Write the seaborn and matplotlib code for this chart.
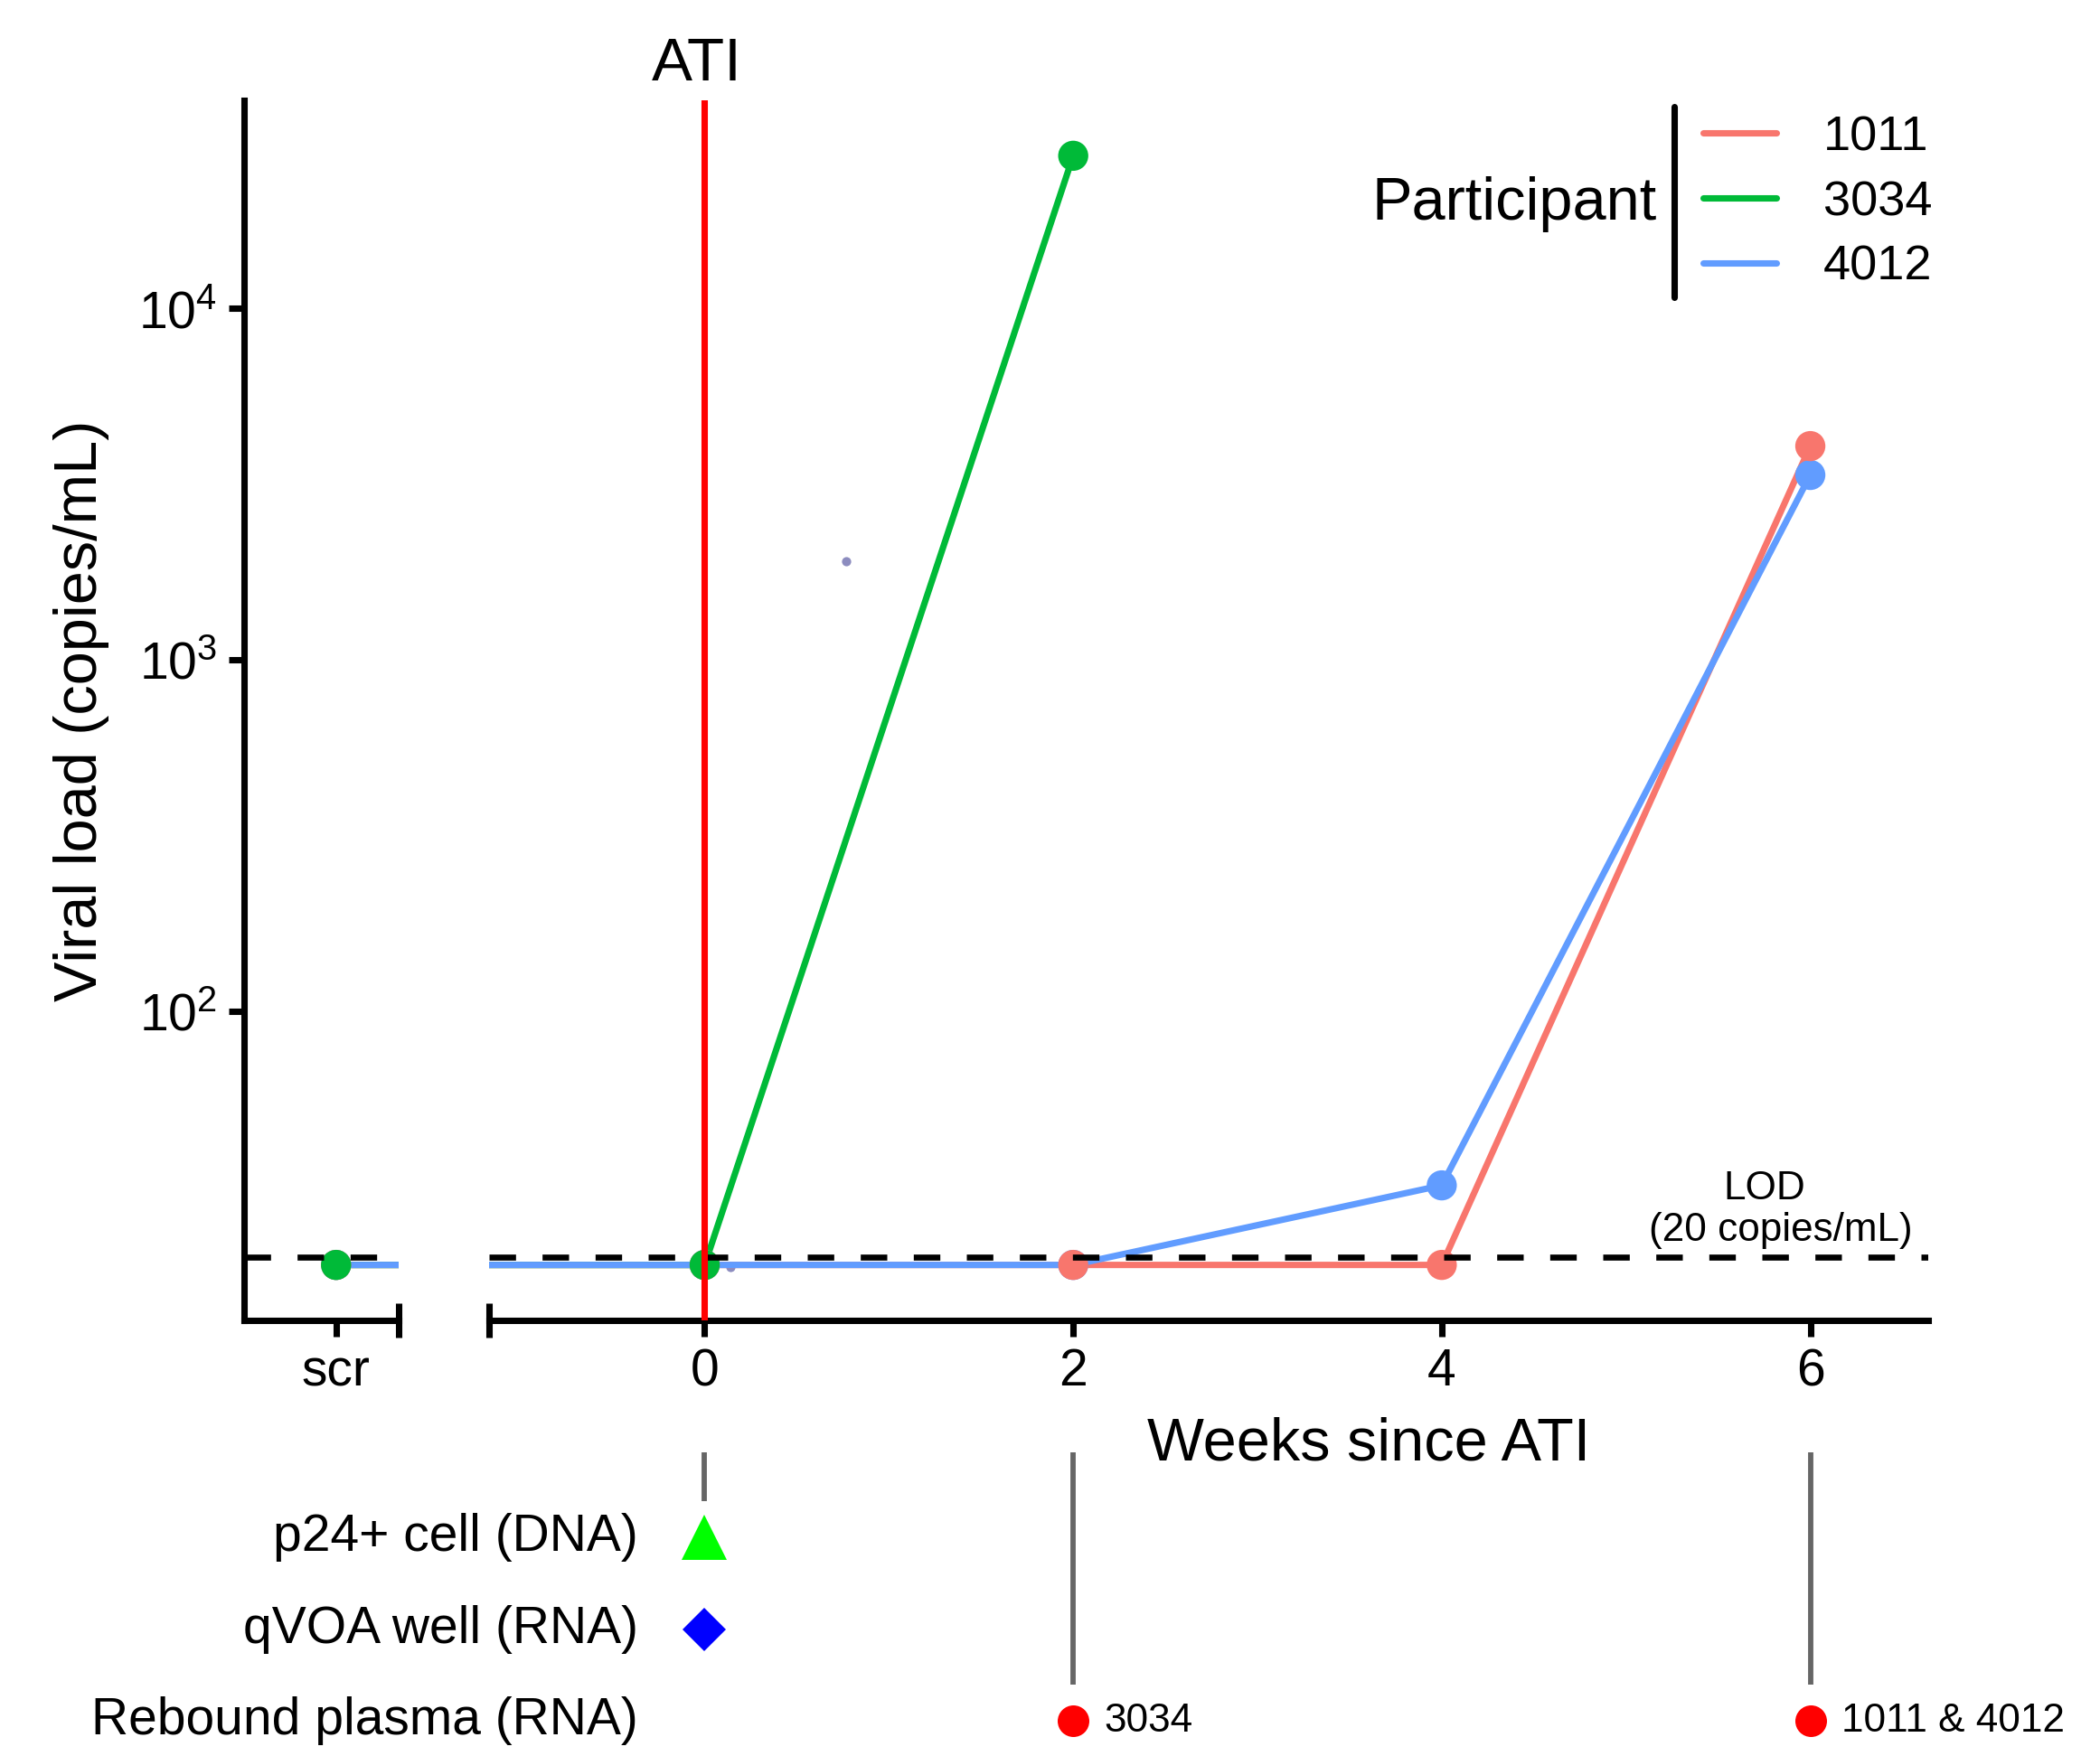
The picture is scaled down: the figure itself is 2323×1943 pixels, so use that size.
import numpy as np
import pandas as pd
import seaborn as sns
import matplotlib.pyplot as plt
from matplotlib.lines import Line2D
from matplotlib.ticker import NullLocator, FixedLocator

# viral load per participant, screening ("scr") sits at week -2
participants = ["1011", "3034", "4012"]
weeks_1011 = [-2, 0, 2, 4, 6]
vl_1011 = [19, 19, 19, 19, 4060]
weeks_3034 = [-2, 0, 2]
vl_3034 = [19, 19, 27200]
weeks_4012 = [-2, 0, 2, 4, 6]
vl_4012 = [19, 19, 19, 32, 3360]

# two faint stray points present in the original
stray_weeks = [0.77, 0.14]
stray_vl = [1905, 18.7]

lod = 20
ati_week = 0
scr_week = -2
week_ticks = [0, 2, 4, 6]
y_ticks = [1e2, 1e3, 1e4]

# events shown under the time axis
event_rows = ["p24+ cell (DNA)", "qVOA well (RNA)", "Rebound plasma (RNA)"]
p24_weeks = [0]
qvoa_weeks = [0]
rebound_weeks = [2, 6]
rebound_labels = ["3034", "1011 & 4012"]

palette = {"1011": "#F8766D", "3034": "#00BA38", "4012": "#619CFF"}

df = pd.concat([
    pd.DataFrame({"Week": weeks_1011, "VL": vl_1011, "Participant": "1011"}),
    pd.DataFrame({"Week": weeks_3034, "VL": vl_3034, "Participant": "3034"}),
    pd.DataFrame({"Week": weeks_4012, "VL": vl_4012, "Participant": "4012"}),
], ignore_index=True)

# point draw order (later ones on top)
pt_order = ["4012", "1011", "3034"]
df_pts = pd.concat([df[df.Participant == p] for p in pt_order], ignore_index=True)

sns.set_theme(style="ticks")
plt.rcParams["font.family"] = ["Liberation Sans", "DejaVu Sans"]
plt.rcParams["mathtext.fontset"] = "custom"
plt.rcParams["mathtext.rm"] = "Liberation Sans"
plt.rcParams["mathtext.default"] = "regular"
for key in ["axes.edgecolor", "text.color", "axes.labelcolor", "xtick.color", "ytick.color"]:
    plt.rcParams[key] = "black"

W, H = 2323, 1943
fig = plt.figure(figsize=(W / 300, H / 300), dpi=300)
fig.patch.set_facecolor("white")


def box(x0, y0, x1, y1):
    return [x0 / W, 1 - y1 / H, (x1 - x0) / W, (y1 - y0) / H]


ax_scr = fig.add_axes(box(270, 111, 441, 1461))
ax_main = fig.add_axes(box(541, 111, 2133, 1461))
ax_ev = fig.add_axes(box(541, 1607, 2133, 1943), sharex=ax_main)

# y range like ggplot: 5% expansion of the log range of the measured values
all_vl = df["VL"].to_numpy(dtype=float)
lo, hi = np.log10(all_vl.min()), np.log10(all_vl.max())
pad = 0.05 * (hi - lo)
ylims = (10 ** (lo - pad), 10 ** (hi + pad))

lw = 1.7
for ax in [ax_scr, ax_main]:
    ax.set_yscale("log")
    ax.set_facecolor("white")
    ax.scatter(stray_weeks, stray_vl, s=6, color="#7070b0", alpha=0.8,
               linewidths=0, zorder=1.5)
    sns.lineplot(data=df, x="Week", y="VL", hue="Participant", hue_order=participants,
                 palette=palette, estimator=None, sort=False, lw=lw, legend=False, ax=ax)
    sns.scatterplot(data=df_pts, x="Week", y="VL", hue="Participant", palette=palette,
                    s=64, linewidth=0, legend=False, zorder=3, ax=ax)
    ax.axhline(lod, color="black", lw=1.6, ls=(0, (4.4, 4.4)), zorder=4)
    ax.set_ylim(*ylims)
    ax.yaxis.set_minor_locator(NullLocator())
    ax.set_xlabel("")
    ax.set_ylabel("")
    for s in ["top", "right"]:
        ax.spines[s].set_visible(False)
    ax.spines["bottom"].set_linewidth(1.7)
    ax.spines["left"].set_linewidth(1.7)
    ax.tick_params(which="major", length=4.2, width=1.7, pad=3, labelsize=13.7)

# screening panel
ax_scr.set_xlim(-2.5, -1.66)
ax_scr.set_xticks([scr_week])
ax_scr.set_xticklabels(["scr"])
ax_scr.xaxis.set_minor_locator(FixedLocator([-1.66]))
ax_scr.set_yticks(y_ticks)
ax_scr.yaxis.set_minor_locator(NullLocator())

# main panel
ax_main.set_xlim(-1.17, 6.64)
ax_main.set_xticks(week_ticks)
ax_main.set_xticklabels([str(w) for w in week_ticks])
ax_main.xaxis.set_minor_locator(FixedLocator([-1.17]))
ax_main.spines["left"].set_visible(False)
ax_main.tick_params(axis="y", left=False, labelleft=False)
ax_main.yaxis.set_minor_locator(NullLocator())

for ax in [ax_scr, ax_main]:
    ax.tick_params(axis="x", which="minor", direction="inout", length=8.9, width=1.7)
    ax.tick_params(axis="y", which="minor", left=False)

ax_main.axvline(ati_week, color="#FF0000", lw=1.7, zorder=5)
ax_main.annotate("ATI", xy=(ati_week, 1), xycoords=("data", "axes fraction"),
                 xytext=(-2.0, 5.3), textcoords="offset points", ha="center",
                 va="baseline", fontsize=16.2, annotation_clip=False)
ax_main.annotate("LOD", xy=(5.75, lod), xytext=(0, 15.4), textcoords="offset points",
                 ha="center", va="baseline", fontsize=10.6)
ax_main.annotate("(20 copies/mL)", xy=(5.84, lod), xytext=(0, 4.3),
                 textcoords="offset points", ha="center", va="baseline", fontsize=10.6)

# axis titles
fig.text(90 / W, 1 - 786 / H, "Viral load (copies/mL)", rotation=90, ha="center",
         va="center", fontsize=16)
fig.text(1514 / W, 1 - 1615 / H, "Weeks since ATI", ha="center", va="baseline",
         fontsize=16)

# legend: title on the left, black bar, keys
handles = [Line2D([], [], color=palette[p], lw=1.7) for p in participants]
fig.legend(handles, participants, loc="center left",
           bbox_to_anchor=(1884 / W, 1 - 224 / H), frameon=False, borderpad=0,
           borderaxespad=0, handlelength=1.5, handletextpad=0.95, labelspacing=0.4,
           fontsize=13)
fig.add_artist(Line2D([1852 / W, 1852 / W], [1 - 118 / H, 1 - 329 / H],
                      transform=fig.transFigure, color="black", lw=1.7))
fig.text(1833 / W, 1 - 226 / H, "Participant", ha="right", va="center", fontsize=16)

# event panel below the time axis
ev_top = -0.926
ax_ev.set_ylim(2.384, ev_top)
ax_ev.axis("off")
event_weeks = [p24_weeks, qvoa_weeks, rebound_weeks]
first_row = {}
for row, wks in enumerate(event_weeks):
    for w in wks:
        first_row.setdefault(w, row)
stem_x = list(first_row.keys())
stem_end = [first_row[w] - 0.39 for w in stem_x]
ax_ev.vlines(stem_x, ev_top, stem_end, color="#666666", lw=1.4)

ax_ev.plot(p24_weeks, [0] * len(p24_weeks), ls="none", marker="^", ms=12,
           color="#00FF00", mew=0)
ax_ev.plot(qvoa_weeks, [1] * len(qvoa_weeks), ls="none", marker="D", ms=8.3,
           color="#0000FF", mew=0)
ax_ev.plot(rebound_weeks, [2] * len(rebound_weeks), ls="none", marker="o", ms=8.4,
           color="#FF0000", mew=0)
for w, lab in zip(rebound_weeks, rebound_labels):
    ax_ev.annotate(lab, xy=(w, 2), xytext=(8.2, 0), textcoords="offset points",
                   ha="left", va="center", fontsize=10.6, annotation_clip=False)
for row, lab in enumerate(event_rows):
    ax_ev.text(-0.36, row, lab, ha="right", va="center", fontsize=13.7, clip_on=False)

plt.savefig("out.png", dpi=300, facecolor="white")
plt.close()
